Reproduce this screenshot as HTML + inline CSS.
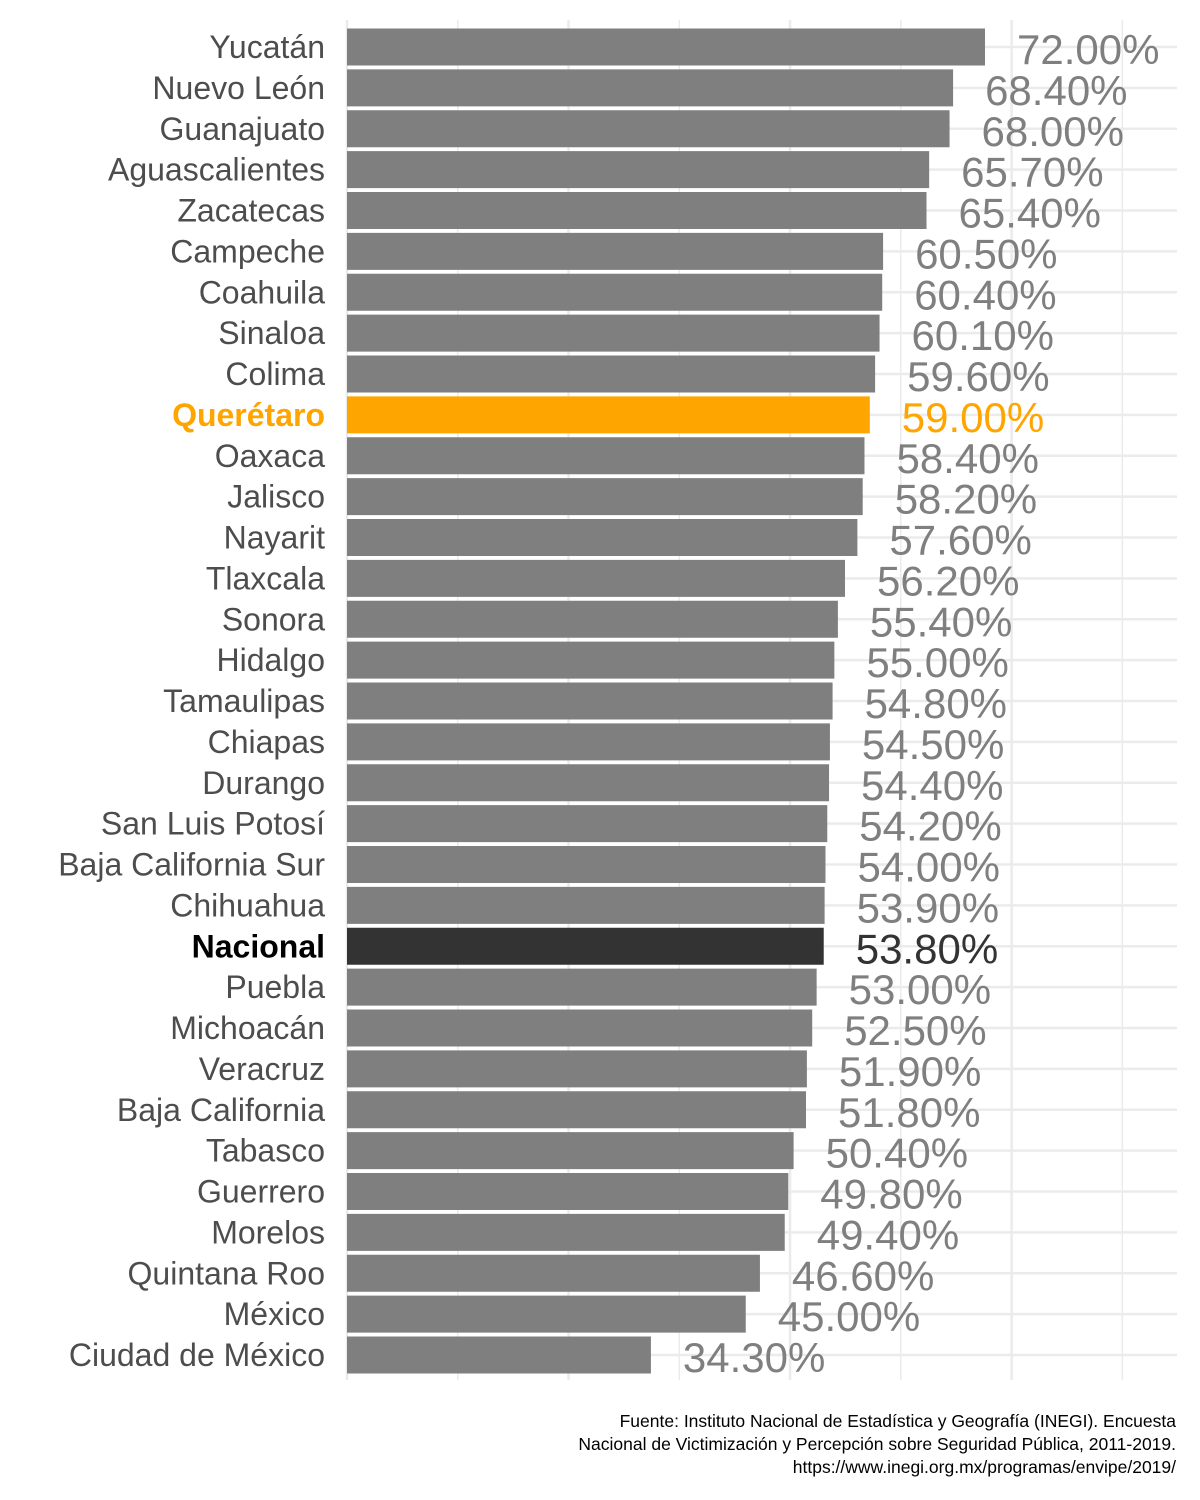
<!DOCTYPE html>
<html><head><meta charset="utf-8"><style>
body{margin:0;background:#fff}
svg{display:block;font-family:"Liberation Sans",sans-serif}
</style></head><body>
<svg id="chart" width="1200" height="1500">
<g id="grid"></g><g id="bars"></g><g id="labels"></g>
<g font-size="17.5" fill="#000" text-anchor="end">
<text x="1176" y="1427">Fuente: Instituto Nacional de Estadística y Geografía (INEGI). Encuesta</text>
<text x="1176" y="1450">Nacional de Victimización y Percepción sobre Seguridad Pública, 2011-2019.</text>
<text x="1176" y="1473">https://www.inegi.org.mx/programas/envipe/2019/</text>
</g>
</svg>
<script>
const states=["Yucatán","Nuevo León","Guanajuato","Aguascalientes","Zacatecas","Campeche","Coahuila","Sinaloa","Colima","Querétaro","Oaxaca","Jalisco","Nayarit","Tlaxcala","Sonora","Hidalgo","Tamaulipas","Chiapas","Durango","San Luis Potosí","Baja California Sur","Chihuahua","Nacional","Puebla","Michoacán","Veracruz","Baja California","Tabasco","Guerrero","Morelos","Quintana Roo","México","Ciudad de México"];
const values=[72.0,68.4,68.0,65.7,65.4,60.5,60.4,60.1,59.6,59.0,58.4,58.2,57.6,56.2,55.4,55.0,54.8,54.5,54.4,54.2,54.0,53.9,53.8,53.0,52.5,51.9,51.8,50.4,49.8,49.4,46.6,45.0,34.3];
const gridTicks=[0,12.5,25,37.5,50,62.5,75,87.5];
const NS="http://www.w3.org/2000/svg";
const x0=347,pxPer=8.861,y0=47,pitch=40.875,bh=37,right=1177;
const X=v=>x0+v*pxPer, Y=i=>y0+i*pitch;
function mk(t,a,p){const e=document.createElementNS(NS,t);for(const k in a)e.setAttribute(k,a[k]);p.appendChild(e);return e;}
const grid=document.getElementById('grid'),bars=document.getElementById('bars'),labels=document.getElementById('labels');
gridTicks.forEach(t=>{const l=mk('line',{x1:X(t),x2:X(t),y1:20,y2:1380,stroke:'#ebebeb','stroke-width':t%25===0?2.5:1.5},grid);

});
states.forEach((s,i)=>{const l=mk('line',{x1:x0,x2:right,y1:Y(i),y2:Y(i),stroke:'#ebebeb','stroke-width':2.5},grid);

});
states.forEach((s,i)=>{
 const v=values[i];const q=s==="Querétaro",n=s==="Nacional";
 const col=q?'#ffa500':(n?'#333333':'#7f7f7f');
 const r=mk('rect',{x:x0,y:Y(i)-bh/2,width:X(v)-x0,height:bh,fill:col},bars);
 
 
 const t=mk('text',{x:X(v)+32,y:Y(i)+17,'font-size':42,fill:q?'#ffa500':(n?'#333333':'#7f7f7f')},labels);
 t.textContent=v.toFixed(2)+'%';
 
 
 const c=mk('text',{x:325,y:Y(i)+11,'font-size':32,'text-anchor':'end',fill:q?'#ffa500':(n?'#000':'#4d4d4d'),'font-weight':(q||n)?'bold':'normal'},labels);
 c.textContent=s;
 
 
});
</script>
</body></html>
